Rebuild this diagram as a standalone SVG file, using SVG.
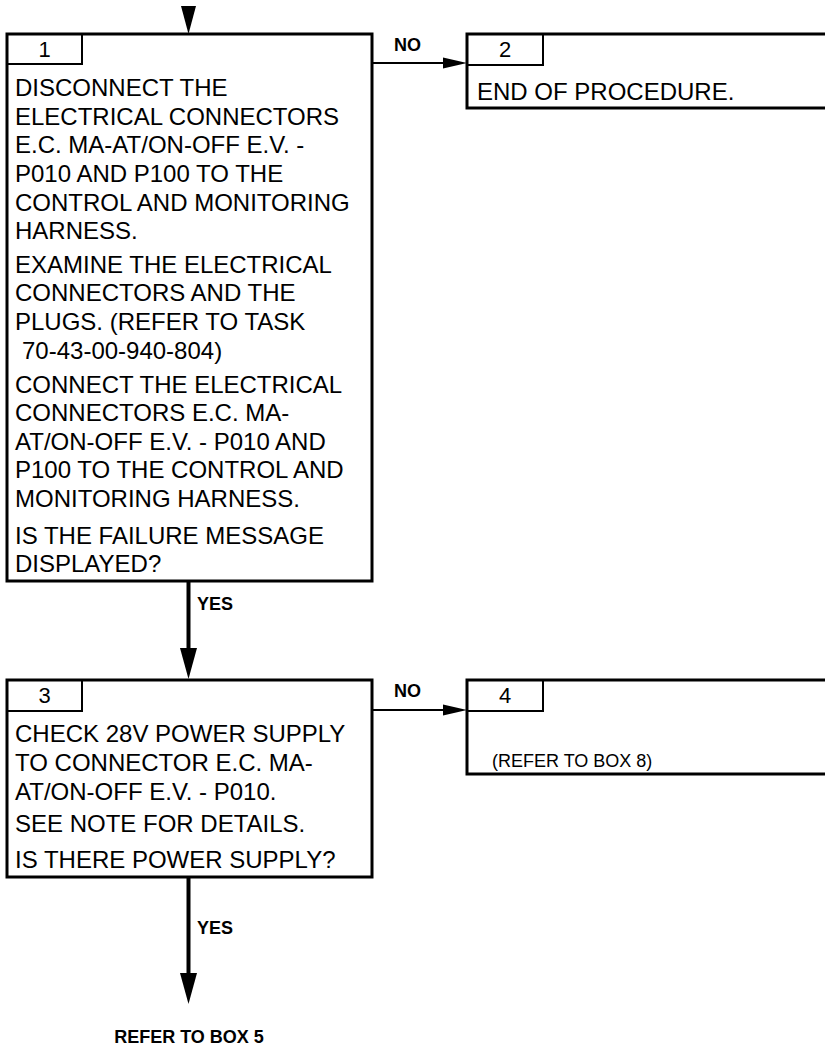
<svg xmlns="http://www.w3.org/2000/svg" width="825" height="1048" viewBox="0 0 825 1048">
<defs>
<style>
.box{fill:none;stroke:#000;stroke-width:3}
.tab{fill:none;stroke:#000;stroke-width:2}
.t{font-family:"Liberation Sans",Arial,sans-serif;font-size:24px;fill:#000}
.n{font-family:"Liberation Sans",Arial,sans-serif;font-size:22px;fill:#000;text-anchor:middle}
.s{font-family:"Liberation Sans",Arial,sans-serif;font-size:18px;fill:#000}
.lb{font-family:"Liberation Sans",Arial,sans-serif;font-size:18px;font-weight:bold;fill:#000}
.v{stroke:#000;stroke-width:4;fill:none}
.h{stroke:#000;stroke-width:2;fill:none}
</style>
</defs>
<rect width="825" height="1048" fill="#fff"/>
<g id="connectors">
<polygon points="181,6 196,6 188.5,34" fill="#000"/>
<line class="h" x1="372" y1="63" x2="445" y2="63"/>
<polygon points="443,57.5 467,63 443,68.5" fill="#000"/>
<line class="v" x1="188.5" y1="581" x2="188.5" y2="650"/>
<polygon points="180,648 197,648 188.5,679" fill="#000"/>
<line class="h" x1="372" y1="710" x2="445" y2="710"/>
<polygon points="443,704.5 467,710 443,715.5" fill="#000"/>
<line class="v" x1="188.5" y1="877" x2="188.5" y2="975"/>
<polygon points="180,973 197,973 188.5,1004" fill="#000"/>
<text class="lb" x="394" y="51">NO</text>
<text class="lb" x="197" y="610">YES</text>
<text class="lb" x="394" y="697">NO</text>
<text class="lb" x="197" y="934">YES</text>
<text class="lb" x="189" y="1043" text-anchor="middle">REFER TO BOX 5</text>
</g>
<g id="box1">
<rect class="box" x="7" y="34" width="365" height="547"/>
<polyline class="tab" points="7,64 82,64 82,34"/>
<text class="n" x="44.5" y="57">1</text>
<text class="t" x="15">
<tspan x="15" y="96">DISCONNECT THE</tspan>
<tspan x="15" y="125">ELECTRICAL CONNECTORS</tspan>
<tspan x="15" y="153">E.C. MA-AT/ON-OFF E.V. -</tspan>
<tspan x="15" y="182">P010 AND P100 TO THE</tspan>
<tspan x="15" y="211">CONTROL AND MONITORING</tspan>
<tspan x="15" y="239">HARNESS.</tspan>
<tspan x="15" y="273">EXAMINE THE ELECTRICAL</tspan>
<tspan x="15" y="301">CONNECTORS AND THE</tspan>
<tspan x="15" y="330">PLUGS. (REFER TO TASK</tspan>
<tspan x="22" y="359">70-43-00-940-804)</tspan>
<tspan x="15" y="393">CONNECT THE ELECTRICAL</tspan>
<tspan x="15" y="421">CONNECTORS E.C. MA-</tspan>
<tspan x="15" y="450">AT/ON-OFF E.V. - P010 AND</tspan>
<tspan x="15" y="478">P100 TO THE CONTROL AND</tspan>
<tspan x="15" y="507">MONITORING HARNESS.</tspan>
<tspan x="15" y="544">IS THE FAILURE MESSAGE</tspan>
<tspan x="15" y="572">DISPLAYED?</tspan>
</text>
</g>
<g id="box2">
<rect class="box" x="467" y="34" width="370" height="74"/>
<polyline class="tab" points="467,65 543,65 543,34"/>
<text class="n" x="505" y="57">2</text>
<text class="t" x="477" y="100">END OF PROCEDURE.</text>
</g>
<g id="box3">
<rect class="box" x="7" y="680" width="365" height="197"/>
<polyline class="tab" points="7,711 82,711 82,680"/>
<text class="n" x="44.5" y="703">3</text>
<text class="t">
<tspan x="15" y="742">CHECK 28V POWER SUPPLY</tspan>
<tspan x="15" y="771">TO CONNECTOR E.C. MA-</tspan>
<tspan x="15" y="800">AT/ON-OFF E.V. - P010.</tspan>
<tspan x="15" y="832">SEE NOTE FOR DETAILS.</tspan>
<tspan x="15" y="868">IS THERE POWER SUPPLY?</tspan>
</text>
</g>
<g id="box4">
<rect class="box" x="467" y="680" width="370" height="94"/>
<polyline class="tab" points="467,711 543,711 543,680"/>
<text class="n" x="505" y="703">4</text>
<text class="s" x="492" y="767">(REFER TO BOX 8)</text>
</g>
</svg>
